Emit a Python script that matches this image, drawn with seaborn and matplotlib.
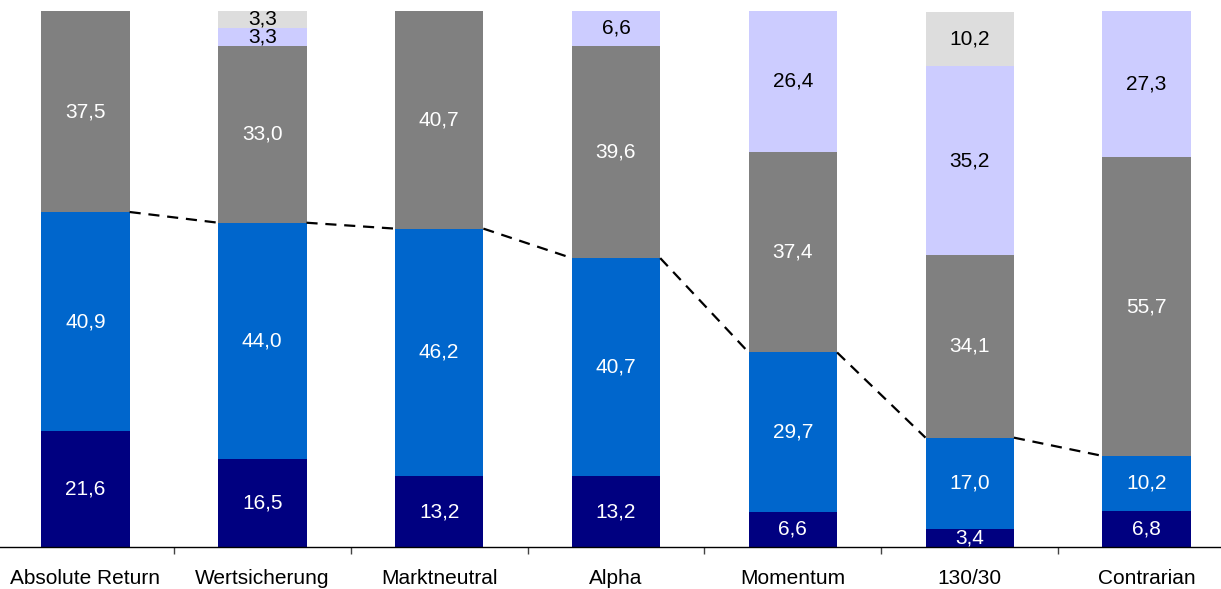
import numpy as np
import pandas as pd
import matplotlib
matplotlib.use("Agg")
import matplotlib.pyplot as plt
import seaborn as sns

sns.set_theme(style="white")
plt.rcParams["font.family"] = ["Liberation Sans", "DejaVu Sans"]

categories = ["Absolute Return", "Wertsicherung", "Marktneutral", "Alpha",
              "Momentum", "130/30", "Contrarian"]
seg_navy = [21.6, 16.5, 13.2, 13.2, 6.6, 3.4, 6.8]
seg_blue = [40.9, 44.0, 46.2, 40.7, 29.7, 17.0, 10.2]
seg_gray = [37.5, 33.0, 40.7, 39.6, 37.4, 34.1, 55.7]
seg_lav = [0.0, 3.3, 0.0, 6.6, 26.4, 35.2, 27.3]
seg_light = [0.0, 3.3, 0.0, 0.0, 0.0, 10.2, 0.0]

series = [
    (seg_navy, "#000080", "white"),
    (seg_blue, "#0066CC", "white"),
    (seg_gray, "#808080", "white"),
    (seg_lav, "#CCCCFF", "black"),
    (seg_light, "#DDDDDD", "black"),
]

fig = plt.figure(figsize=(12.21, 5.89), dpi=100)
ax = fig.add_axes([-3 / 1221, 42 / 589, 1238 / 1221, 536 / 589])

bar_w = 0.5
bottom = np.zeros(len(categories))
for vals, col, tcol in series:
    vals = np.array(vals)
    df = pd.DataFrame({"cat": categories, "val": vals})
    sns.barplot(data=df, x="cat", y="val", color=col, width=bar_w,
                bottom=bottom, saturation=1, linewidth=0, ax=ax, zorder=2)
    for i, v in enumerate(vals):
        if v > 0:
            ax.text(i, bottom[i] + v / 2, f"{v:.1f}".replace(".", ","),
                    ha="center", va="center", color=tcol, fontsize=15, zorder=4)
    bottom = bottom + vals

# dashed connector between the tops of the two lower segments
lower_top = np.array(seg_navy) + np.array(seg_blue)
for i in range(len(categories) - 1):
    ax.plot([i + bar_w / 2, i + 1 - bar_w / 2], [lower_top[i], lower_top[i + 1]],
            color="black", linestyle=(0, (5, 3.5)), linewidth=1.6, zorder=3)

ax.set_xlim(-0.5, len(categories) - 0.5)
ax.set_ylim(0, 100)
ax.set_xlabel("")
ax.set_ylabel("")
ax.set_yticks([])
for s in ["top", "right", "left"]:
    ax.spines[s].set_visible(False)
ax.spines["bottom"].set_color("black")
ax.spines["bottom"].set_linewidth(1.0)

ax.set_xticks(np.arange(len(categories)))
ax.set_xticklabels(categories, fontsize=15, color="black")
ax.tick_params(axis="x", which="major", length=0, pad=16)
ax.set_xticks(np.arange(len(categories) - 1) + 0.5, minor=True)
ax.tick_params(axis="x", which="minor", length=5, width=1, color="#444444",
               direction="out", bottom=True)

fig.savefig("out.png", dpi=100)
